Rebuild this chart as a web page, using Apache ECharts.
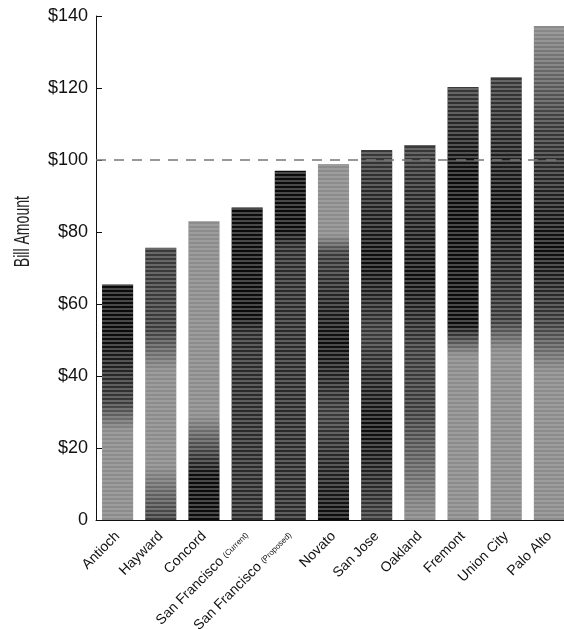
<!DOCTYPE html>
<html>
<head>
<meta charset="utf-8">
<style>
  html, body { margin: 0; padding: 0; background: #fff; }
  #chart { width: 564px; height: 629px; }
</style>
<script src="https://cdn.jsdelivr.net/npm/echarts@6/dist/echarts.min.js"></script>
</head>
<body>
<div id="chart"></div>
<script>
(function () {
  "use strict";

  // values
  const cities = ["Antioch", "Hayward", "Concord", "San Francisco (Current)", "San Francisco (Proposed)",
    "Novato", "San Jose", "Oakland", "Fremont", "Union City", "Palo Alto"];
  const bills = [65.4, 75.6, 83.0, 86.8, 97.0, 98.9, 102.8, 104.2, 120.3, 123.0, 137.2];
  const yTicks = [0, 20, 40, 60, 80, 100, 120, 140];
  const refLine = 100;

  // halftone look of each bar, top -> bottom
  const K = "#0b0b0b", M = "#3a3a3a", G = "#8c8c8c", D = "#2a2a2a";
  const shades = [
    [[0, K], [0.22, K], [0.5, M], [0.62, G], [1, G]],
    [[0, M], [0.3, M], [0.45, G], [0.8, G], [1, M]],
    [[0, G], [0.65, G], [0.78, M], [0.85, K], [1, K]],
    [[0, K], [0.35, K], [0.4, D], [1, D]],
    [[0, K], [0.17, K], [0.22, D], [1, D]],
    [[0, G], [0.2, G], [0.25, M], [0.5, K], [0.7, M], [1, K]],
    [[0, M], [0.3, K], [0.5, M], [0.75, K], [1, M]],
    [[0, M], [0.35, K], [0.55, M], [0.7, M], [1, G]],
    [[0, M], [0.2, K], [0.55, K], [0.62, G], [1, G]],
    [[0, M], [0.3, K], [0.55, M], [0.62, G], [1, G]],
    [[0, G], [0.2, M], [0.45, K], [0.6, M], [0.7, G], [1, G]],
  ];

  const FONT = "'Liberation Sans', Arial, sans-serif";
  const chart = echarts.init(document.getElementById("chart"));

  const fmtY = v => (v === 0 ? "0" : "$" + v);
  const fmtX = name => {
    const m = name.match(/^(.*) (\(.*\))$/);
    return m ? `${m[1]} {s|${m[2]}}` : name;
  };

  chart.setOption({
    animation: false,
    backgroundColor: "#fff",
    grid: { left: 96, top: 16, bottom: 109, width: 475, outerBoundsMode: "none", containLabel: false },
    graphic: [{
      type: "text", left: 12, top: 196,
      style: { text: "Bill Amount", font: "22px " + FONT, fill: "#222" },
      rotation: Math.PI / 2, scaleX: 0.64, originX: 0, originY: 0,
    }],
    xAxis: {
      type: "category",
      data: cities,
      axisLine: { lineStyle: { color: "#111", width: 1 } },
      axisTick: { inside: true, length: 10, lineStyle: { color: "#111" } },
      axisLabel: {
        rotate: 45, margin: 14, interval: 0, color: "#111",
        fontFamily: FONT, fontSize: 14,
        formatter: fmtX,
        rich: { s: { fontSize: 8, fontFamily: FONT, color: "#111" } },
      },
    },
    yAxis: {
      type: "value",
      min: yTicks[0], max: yTicks[yTicks.length - 1], interval: 20,
      splitLine: { show: false },
      axisLine: { show: true, lineStyle: { color: "#111", width: 1 } },
      axisTick: { show: true, inside: true, length: 6, lineStyle: { color: "#111" } },
      axisLabel: { formatter: fmtY, color: "#111", fontFamily: FONT, fontSize: 18, margin: 8 },
    },
    series: [{
      type: "bar",
      barWidth: "72%",
      data: bills.map((v, i) => ({
        value: v,
        itemStyle: {
          color: new echarts.graphic.LinearGradient(0, 0, 0, 1,
            shades[i].map(([o, c]) => ({ offset: o, color: c }))),
          decal: {
            symbol: "rect", symbolSize: 1,
            dashArrayX: [[1, 0]], dashArrayY: [2, 2],
            color: "rgba(190,190,190,0.35)",
          },
        },
      })),
      markLine: {
        silent: true, symbol: "none",
        label: { show: false },
        lineStyle: { color: "#777", type: [10, 8], width: 1.5 },
        data: [{ yAxis: refLine }],
      },
    }],
  });
})();
</script>
</body>
</html>
